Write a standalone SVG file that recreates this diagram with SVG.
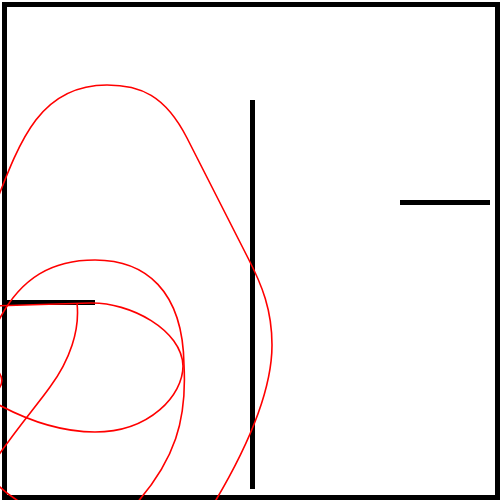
<svg xmlns="http://www.w3.org/2000/svg" width="500" height="500" viewBox="0 0 500 500">
  <style>
    .wall { stroke: #000000; stroke-width: 5; fill: none; stroke-linecap: butt; }
    .path { stroke: #ff0000; stroke-width: 1.6; fill: none; stroke-linejoin: round; }
  </style>
  <rect x="0" y="0" width="500" height="500" fill="#ffffff"/>
  <g id="walls">
    <rect class="wall" x="4.5" y="4.5" width="493" height="493"/>
    <line class="wall" x1="252.5" y1="100" x2="252.5" y2="489"/>
    <line class="wall" x1="400" y1="202.5" x2="490" y2="202.5"/>
    <line class="wall" x1="5" y1="302.5" x2="95" y2="302.5"/>
  </g>
  <g id="trajectory">
    <path class="path" d="M -6,208 C 20,140 40,85 107,85 C 140,85 165,95 187,138 L 248,258 C 262,285 272,310 272,345 C 272,385 252,440 213,505"/>
    <path class="path" d="M -4,326 C 20,275 55,260 95,260 C 145,260 183,290 184,365 C 187,420 175,460 135,505"/>
    <path class="path" d="M -10,306.1 L 90,303 C 130,302 182,330 183,366 C 183,395 150,432 95,432 C 60,432 25,420 -10,400"/>
    <path class="path" d="M 77,303 C 80,330 70,360 50,387 C 35,408 15,430 -8,465"/>
    <path class="path" d="M -3,370 Q 6,380 -2,390"/>
    <path class="path" d="M -5,482 Q 5,493 20,502"/>
  </g>
</svg>
